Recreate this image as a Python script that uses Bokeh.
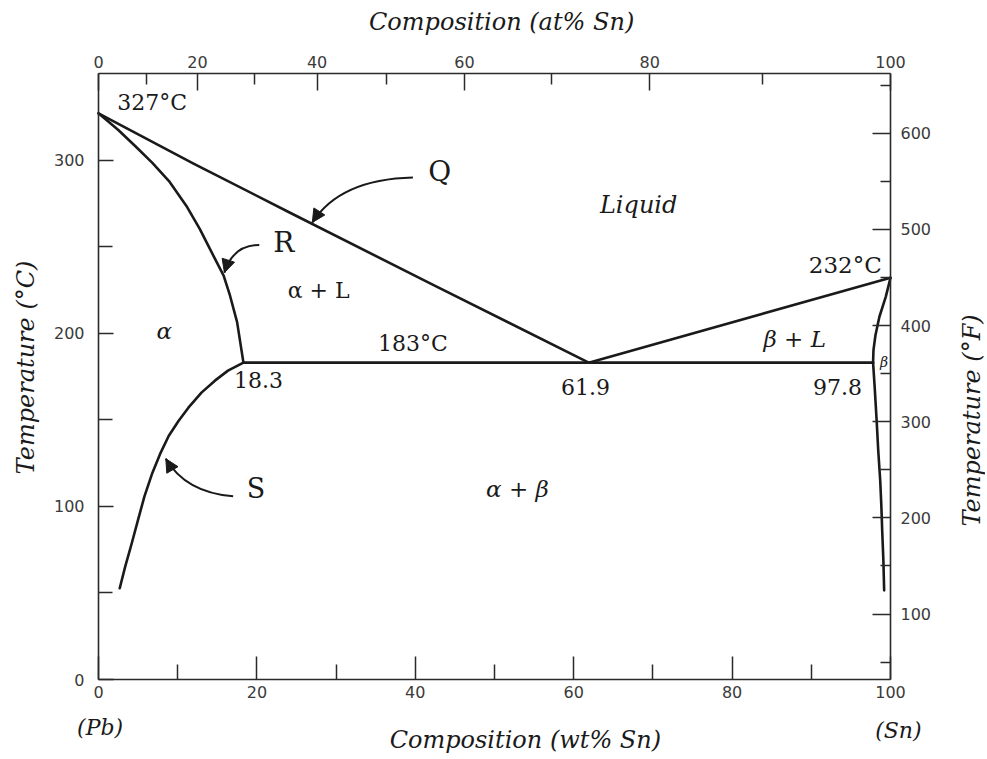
import math
from bokeh.plotting import figure
from bokeh.models import (LinearAxis, Range1d, FixedTicker, Label, Arrow,
                          NormalHead, ColumnDataSource)
from bokeh.embed import file_html
from bokeh.resources import INLINE

# ---------------- data (wt% Sn, temperature in °C) ----------------
liq_left_wt = [0, 12, 24, 42, 61.9]
liq_left_T = [327, 298, 270, 228.5, 183]
liq_right_wt = [61.9, 100]
liq_right_T = [183, 232]
sol_alpha_wt = [0, 2.5, 4.66, 6.8, 8.9, 11.1, 12.8, 14.5, 15.8, 16.6, 17.5, 18.3]
sol_alpha_T = [327, 317.4, 308, 298.4, 287.9, 273.5, 260.1, 244.8, 233.3, 221.8, 206.4, 183]
solvus_alpha_wt = [18.3, 16.35, 14.7, 13.0, 11.35, 10.1, 8.86, 7.84, 6.8, 5.8, 5.0, 4.2, 3.37, 2.68]
solvus_alpha_T = [183, 178.4, 172.6, 165.7, 157, 149.3, 140.6, 130.9, 119.3, 105.8, 92.3, 78.7, 65.2, 52.7]
eutectic_wt = [18.3, 97.8]
eutectic_T = [183, 183]
sol_beta_wt = [100, 99.4, 98.6, 98.1, 97.85, 97.8]
sol_beta_T = [232, 221, 209.5, 198.8, 190.2, 183]
solvus_beta_wt = [97.8, 98.0, 98.25, 98.45, 98.7, 98.85, 98.95, 99.1, 99.2]
solvus_beta_T = [183, 169, 149.7, 132.4, 115.1, 99.7, 86.2, 68.9, 51.5]

# curved pointer arrows Q, R, S (start, control, tip) in data coords
arrow_x0 = [39.7, 20.3, 17.0]
arrow_y0 = [290, 251, 105.8]
arrow_cx = [30.5, 17.0, 11.0]
arrow_cy = [289, 251, 108]
arrow_x1 = [27.0, 15.9, 8.5]
arrow_y1 = [264, 235, 127.5]

# axis ticks
bottom_major = [0, 20, 40, 60, 80, 100]
bottom_minor = [10, 30, 50, 70, 90]
left_major = [0, 100, 200, 300]
left_minor = [50, 150, 250]
top_labels = ["0", "20", "40", "60", "80", "100"]
top_major_wt = [0, 12.5, 27.6, 46.2, 69.6, 100]   # at% 0,20,...,100 on the wt% scale
top_minor_wt = [6.0, 19.7, 36.4, 57.2, 83.8]       # at% 10,30,...,90
right_major_F = [100, 200, 300, 400, 500, 600]
right_minor_F = [50, 150, 250, 350, 450, 550, 650]
wt_bounds = [0, 100]
C_bounds = [0, 350]

# region / point labels: text, x (wt%), y (°C), size, style
labels_text = ["327°C", "Q", "R", "α + L", "α", "Liquid", "183°C", "18.3",
               "61.9", "97.8", "232°C", "β + L", "β", "α + β", "S"]
labels_x = [2.36, 43.1, 23.4, 27.8, 8.3, 68.2, 39.7, 20.2,
            61.5, 93.3, 94.3, 87.9, 99.2, 52.9, 19.9]
labels_y = [333.5, 293.2, 252.6, 224.7, 201.2, 273.8, 194.3, 172.7,
            168.9, 168.9, 239.2, 196.4, 183.3, 109.8, 110.2]
labels_size = [22, 28, 28, 22, 23, 24, 22, 22,
               22, 22, 23, 23, 14, 23, 27]
labels_style = ["normal", "normal", "normal", "normal", "italic", "italic", "normal", "normal",
                "normal", "normal", "normal", "italic", "italic", "italic", "normal"]
labels_align = ["left"] + ["center"] * 14

# axis titles and end-member labels: text, x, y, angle
titles_text = ["Composition (at% Sn)", "Composition (wt% Sn)", "Temperature (°C)", "Temperature (°F)",
               "(Pb)", "(Sn)"]
titles_x = [50.9, 53.9, -9.2, 110.3, 0.2, 101.0]
titles_y = [379.5, -35.2, 180.2, 149.6, -28.0, -29.5]
titles_angle = [0, 0, math.pi / 2, math.pi / 2, 0, 0]
titles_size = [24, 24, 24, 24, 22, 22]

SERIF = "DejaVu Serif"
SANS = "DejaVu Sans"
INK = "#1a1a1a"
AXC = "#2a2a2a"
TICKC = "#3a3a3a"

# ---------------- layout: canvas and where the data box sits ----------------
W, H = 985, 757
BOX_L, BOX_R, BOX_T, BOX_B = 98, 890, 73, 679
px_per_wt = (BOX_R - BOX_L) / (wt_bounds[1] - wt_bounds[0])
px_per_C = (BOX_B - BOX_T) / (C_bounds[1] - C_bounds[0])
x_start = wt_bounds[0] - BOX_L / px_per_wt
x_end = wt_bounds[1] + (W - BOX_R) / px_per_wt
y_start = C_bounds[0] - (H - BOX_B) / px_per_C
y_end = C_bounds[1] + BOX_T / px_per_C


def c_to_f(c):
    return 32 + 1.8 * c


p = figure(width=W, height=H, x_range=Range1d(x_start, x_end), y_range=Range1d(y_start, y_end),
           output_backend="svg", toolbar_location=None, min_border=0)
p.title.visible = False
p.extra_y_ranges = {"F": Range1d(c_to_f(y_start), c_to_f(y_end))}
p.xgrid.visible = False
p.ygrid.visible = False
p.outline_line_color = None
p.background_fill_color = "white"
p.border_fill_color = "white"


def style_axis(ax, major_in, minor_in, standoff):
    ax.axis_line_color = AXC
    ax.axis_line_width = 1.6
    ax.major_tick_line_color = AXC
    ax.minor_tick_line_color = AXC
    ax.major_tick_line_width = 1.5
    ax.minor_tick_line_width = 1.5
    ax.major_tick_in = major_in
    ax.major_tick_out = 0
    ax.minor_tick_in = minor_in
    ax.minor_tick_out = 0
    ax.major_label_text_font = SANS
    ax.major_label_text_font_size = "16px"
    ax.major_label_text_color = TICKC
    ax.major_label_standoff = standoff


# bottom axis (wt% Sn)
bx = p.xaxis[0]
bx.ticker = FixedTicker(ticks=bottom_major, minor_ticks=bottom_minor)
bx.fixed_location = C_bounds[0]
bx.bounds = tuple(wt_bounds)
style_axis(bx, 23, 15, 6)

# left axis (°C)
ly = p.yaxis[0]
ly.ticker = FixedTicker(ticks=left_major, minor_ticks=left_minor)
ly.fixed_location = wt_bounds[0]
ly.bounds = tuple(C_bounds)
style_axis(ly, 15, 14, 14)

# top axis (at% Sn)
tx = LinearAxis(ticker=FixedTicker(ticks=top_major_wt, minor_ticks=top_minor_wt),
                fixed_location=C_bounds[1], bounds=tuple(wt_bounds))
style_axis(tx, 17, 11, 6)
tx.major_label_overrides = {v: s for v, s in zip(top_major_wt, top_labels)}
p.add_layout(tx, "above")

# right axis (°F)
ry = LinearAxis(y_range_name="F",
                ticker=FixedTicker(ticks=right_major_F, minor_ticks=right_minor_F),
                fixed_location=wt_bounds[1],
                bounds=(c_to_f(C_bounds[0]), c_to_f(C_bounds[1])))
style_axis(ry, 18, 10, 10)
p.add_layout(ry, "right")

# phase boundaries
lw = 2.6
for xs, ys in [(liq_left_wt, liq_left_T), (liq_right_wt, liq_right_T),
               (sol_alpha_wt, sol_alpha_T), (solvus_alpha_wt, solvus_alpha_T),
               (eutectic_wt, eutectic_T), (sol_beta_wt, sol_beta_T),
               (solvus_beta_wt, solvus_beta_T)]:
    p.line(xs, ys, line_color=INK, line_width=lw, line_join="round", line_cap="round")

# curved pointer arrows
src = ColumnDataSource(dict(x0=arrow_x0, y0=arrow_y0, cx=arrow_cx, cy=arrow_cy,
                            x1=arrow_x1, y1=arrow_y1))
p.quadratic(x0="x0", y0="y0", x1="x1", y1="y1", cx="cx", cy="cy", source=src,
            line_color=INK, line_width=2.0)
for cx, cy, x1, y1 in zip(arrow_cx, arrow_cy, arrow_x1, arrow_y1):
    p.add_layout(Arrow(end=NormalHead(size=13, fill_color=INK, line_color=INK, line_width=1),
                       x_start=cx, y_start=cy, x_end=x1, y_end=y1,
                       line_alpha=0, line_width=0))

# text labels inside the diagram
for t, x, y, s, st, al in zip(labels_text, labels_x, labels_y, labels_size, labels_style, labels_align):
    p.add_layout(Label(x=x, y=y, text=t, text_font=SERIF, text_font_size=f"{s}px",
                       text_font_style=st, text_align=al, text_baseline="middle",
                       text_color=INK))

# axis titles and end-member labels
for t, x, y, a, s in zip(titles_text, titles_x, titles_y, titles_angle, titles_size):
    p.add_layout(Label(x=x, y=y, text=t, angle=a, text_font=SERIF, text_font_size=f"{s}px",
                       text_font_style="italic", text_align="center", text_baseline="middle",
                       text_color=INK))

open("out.html", "w").write(file_html(p, INLINE))
